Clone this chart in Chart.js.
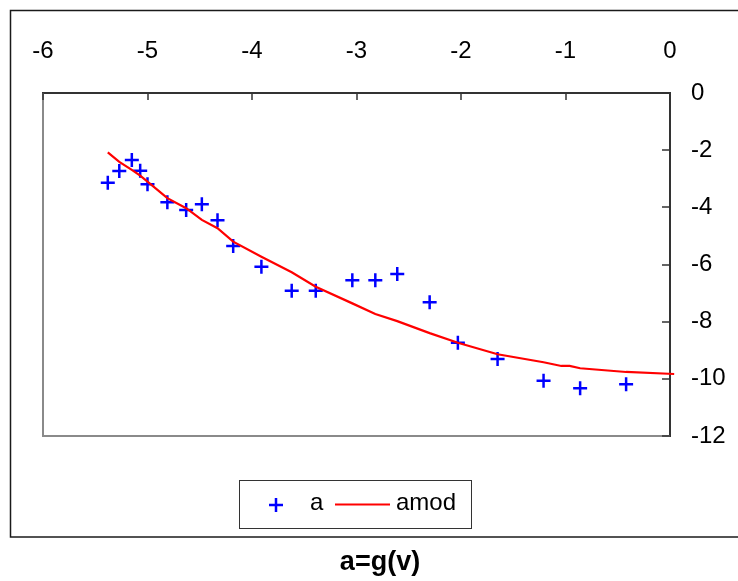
<!DOCTYPE html>
<html>
<head>
<meta charset="utf-8">
<title>a=g(v)</title>
<script src="https://cdn.jsdelivr.net/npm/chart.js@4.4.1/dist/chart.umd.min.js"></script>
<style>
    body { margin: 0; background: #fff; }
    #wrap { width: 738px; height: 581px; }
</style>
</head>
<body>
<div id="wrap"><canvas id="agChart" width="738" height="581"></canvas></div>
<script>
// measured points a(v)
const vObs = [-5.38, -5.27, -5.15, -5.07, -5.00, -4.81, -4.63, -4.48, -4.33, -4.18, -3.91,
    -3.62, -3.39, -3.04, -2.82, -2.61, -2.30, -2.03, -1.65, -1.21, -0.86, -0.42];
const aObs = [-3.14, -2.73, -2.34, -2.72, -3.19, -3.82, -4.09, -3.89, -4.45, -5.35, -6.08,
    -6.92, -6.92, -6.55, -6.55, -6.33, -7.32, -8.74, -9.31, -10.07, -10.33, -10.19];

// model curve amod(v)
const vMod = [-5.38, -5.27, -5.15, -5.07, -5.00, -4.81, -4.63, -4.48, -4.33, -4.18, -3.91,
    -3.62, -3.39, -3.04, -2.82, -2.61, -2.30, -2.03, -1.65, -1.21, -1.04, -0.96, -0.86, -0.42, 0.04];
const aMod = [-2.08, -2.41, -2.69, -2.89, -3.10, -3.68, -4.03, -4.44, -4.73, -5.20, -5.73,
    -6.27, -6.78, -7.36, -7.73, -7.98, -8.40, -8.74, -9.14, -9.42, -9.55, -9.55, -9.63, -9.76, -9.83];

const xTicks = [-6, -5, -4, -3, -2, -1, 0];
const yTicks = [0, -2, -4, -6, -8, -10, -12];

const seriesNames = ["a", "amod"];
const chartTitle = "a=g(v)";

const FONT = "'Liberation Sans', Arial, sans-serif";
const BLUE = "#0000ff";
const RED = "#ff0000";
const AXIS = "#333333";

function toPoints(xs, ys) {
    return xs.map((x, i) => ({ x: x, y: ys[i] }));
}

// frame, plot border, inward ticks, legend box and title
const framePlugin = {
    id: "frame",
    beforeDraw(chart) {
        const ctx = chart.ctx;
        ctx.save();
        ctx.fillStyle = "#fff";
        ctx.fillRect(0, 0, chart.width, chart.height);
        ctx.restore();
    },
    beforeDatasetsDraw(chart) {
        const ctx = chart.ctx;
        const area = chart.chartArea;
        const xs = chart.scales.x;
        const ys = chart.scales.y;
        ctx.save();
        ctx.strokeStyle = "#8a8a8a";
        ctx.lineWidth = 2;
        ctx.beginPath();
        ctx.moveTo(area.left, area.top);
        ctx.lineTo(area.left, area.bottom);
        ctx.lineTo(area.right, area.bottom);
        ctx.stroke();

        ctx.strokeStyle = AXIS;
        ctx.lineWidth = 1.5;
        ctx.beginPath();
        xTicks.forEach(t => {
            const px = Math.round(xs.getPixelForValue(t));
            ctx.moveTo(px, area.top);
            ctx.lineTo(px, area.top + 7);
        });
        yTicks.forEach(t => {
            const py = Math.round(ys.getPixelForValue(t));
            ctx.moveTo(area.right - 8, py);
            ctx.lineTo(area.right, py);
        });
        ctx.stroke();
        ctx.restore();
    },
    afterDraw(chart) {
        const ctx = chart.ctx;
        ctx.save();

        // outer chart border
        ctx.strokeStyle = "#1a1a1a";
        ctx.lineWidth = 1.5;
        ctx.strokeRect(10.5, 10.5, 800, 526.5);

        // legend
        ctx.lineWidth = 1;
        ctx.strokeStyle = AXIS;
        ctx.strokeRect(239.5, 480.5, 232, 48);

        ctx.strokeStyle = BLUE;
        ctx.lineWidth = 2.5;
        ctx.beginPath();
        ctx.moveTo(269, 505);
        ctx.lineTo(283, 505);
        ctx.moveTo(276, 498);
        ctx.lineTo(276, 512);
        ctx.stroke();

        ctx.strokeStyle = RED;
        ctx.lineWidth = 2.2;
        ctx.beginPath();
        ctx.moveTo(335, 504.5);
        ctx.lineTo(390, 504.5);
        ctx.stroke();

        ctx.fillStyle = "#000";
        ctx.font = "24px " + FONT;
        ctx.textAlign = "left";
        ctx.textBaseline = "alphabetic";
        ctx.fillText(seriesNames[0], 310, 510);
        ctx.fillText(seriesNames[1], 396, 510);

        // title under the frame
        ctx.font = "bold 27px " + FONT;
        ctx.textAlign = "center";
        ctx.fillText(chartTitle, 380, 570);
        ctx.restore();
    }
};

const ctx = document.getElementById("agChart").getContext("2d");
new Chart(ctx, {
    type: "scatter",
    data: {
        datasets: [
            {
                label: seriesNames[0],
                data: toPoints(vObs, aObs),
                pointStyle: "cross",
                pointRadius: 7,
                pointHoverRadius: 7,
                pointBorderWidth: 2.5,
                borderColor: BLUE,
                backgroundColor: BLUE,
                showLine: false,
                order: 2
            },
            {
                label: seriesNames[1],
                data: toPoints(vMod, aMod),
                showLine: true,
                borderColor: RED,
                borderWidth: 2.2,
                pointRadius: 0,
                tension: 0,
                fill: false,
                clip: false,
                order: 1
            }
        ]
    },
    options: {
        responsive: false,
        animation: false,
        devicePixelRatio: 1,
        layout: { padding: { left: 43, top: 0, right: 0, bottom: 145 } },
        font: { family: FONT, size: 24 },
        plugins: {
            legend: { display: false },
            title: { display: false },
            tooltip: { enabled: false }
        },
        scales: {
            x: {
                type: "linear",
                position: "top",
                min: -6,
                max: 0,
                afterFit(scale) { scale.height = 93; },
                afterBuildTicks(scale) { scale.ticks = xTicks.map(v => ({ value: v })); },
                grid: { drawOnChartArea: false, drawTicks: false },
                border: { display: true, color: AXIS, width: 2 },
                ticks: {
                    color: "#000",
                    padding: 27,
                    maxRotation: 0,
                    font: { family: FONT, size: 24 }
                }
            },
            y: {
                type: "linear",
                position: "right",
                min: -12,
                max: 0,
                afterFit(scale) { scale.width = 68; },
                afterBuildTicks(scale) { scale.ticks = yTicks.map(v => ({ value: v })); },
                grid: { drawOnChartArea: false, drawTicks: false },
                border: { display: true, color: AXIS, width: 2 },
                ticks: {
                    color: "#000",
                    padding: 21,
                    font: { family: FONT, size: 24 }
                }
            }
        }
    },
    plugins: [framePlugin]
});
</script>
</body>
</html>
